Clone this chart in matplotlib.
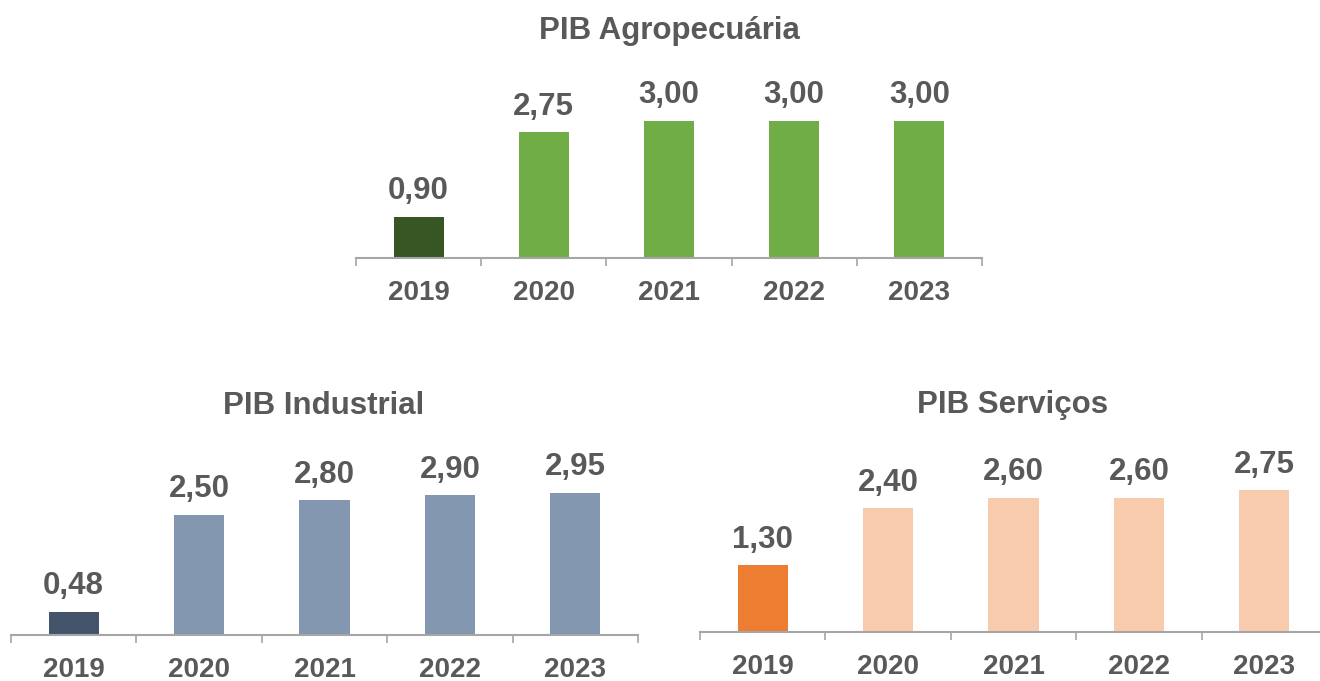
import matplotlib.pyplot as plt
import numpy as np

# Data
anos = ['2019', '2020', '2021', '2022', '2023']
pib_agro = [0.90, 2.75, 3.00, 3.00, 3.00]
pib_ind = [0.48, 2.50, 2.80, 2.90, 2.95]
pib_serv = [1.30, 2.40, 2.60, 2.60, 2.75]

plt.rcParams['font.family'] = ['Liberation Sans', 'DejaVu Sans']
gray = '#595959'

fig = plt.figure(figsize=(13.2, 6.81), dpi=100)


def painel(rect, valores, cor_19, cor, titulo, ymax, title_xy):
    ax = fig.add_axes(rect)
    x = np.arange(len(anos))
    cores = [cor_19] + [cor] * (len(anos) - 1)
    bars = ax.bar(x, valores, width=0.4, color=cores, zorder=2)
    for b, v in zip(bars, valores):
        ax.annotate('{:.2f}'.format(v).replace('.', ','),
                    (b.get_x() + b.get_width() / 2, v),
                    xytext=(0, 7.5), textcoords='offset points',
                    ha='center', va='bottom', fontsize=22.5,
                    fontweight='bold', color=gray)
    ax.set_xlim(-0.5, len(anos) - 0.5)
    ax.set_ylim(0, ymax)
    ax.set_xticks(x)
    ax.set_xticklabels(anos, fontsize=20, fontweight='bold', color=gray)
    ax.tick_params(axis='x', which='major', length=0, pad=16)
    ax.set_xticks(np.arange(-0.5, len(anos)), minor=True)
    ax.tick_params(axis='x', which='minor', length=6, width=1.2, color='#a6a6a6')
    ax.set_yticks([])
    for s in ['top', 'right', 'left']:
        ax.spines[s].set_visible(False)
    ax.spines['bottom'].set_color('#a6a6a6')
    ax.spines['bottom'].set_linewidth(1.5)
    fig.text(title_xy[0] / 1320, 1 - title_xy[1] / 681, titulo, ha='center', va='center',
             fontsize=22.5, fontweight='bold', color=gray)
    return ax


painel([356 / 1320, 1 - 258 / 681, 626 / 1320, 160 / 681], pib_agro,
       '#375623', '#70ad47', 'PIB Agropecuária', 160 / 45.7, (669, 31))
painel([11 / 1320, 1 - 635 / 681, 627 / 1320, 168 / 681], pib_ind,
       '#44546a', '#8497b0', 'PIB Industrial', 168 / 48.2, (324, 406))
painel([700 / 1320, 1 - 632 / 681, 627 / 1320, 180 / 681], pib_serv,
       '#ed7d31', '#f8cbad', 'PIB Serviços', 180 / 51.6, (1013, 405))

fig.savefig('out.png', dpi=100)
